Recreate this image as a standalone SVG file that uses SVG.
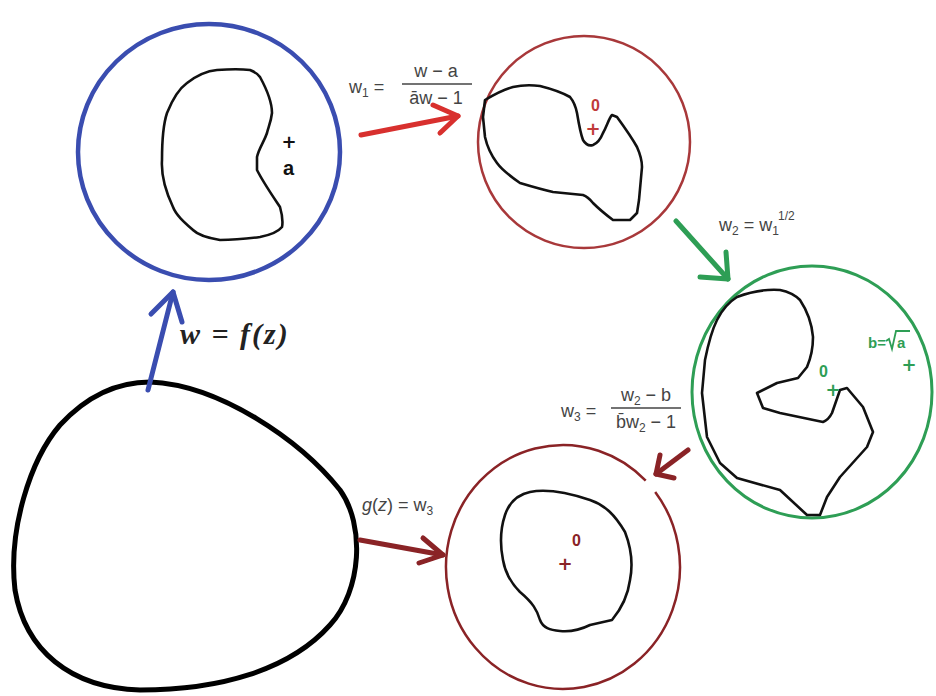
<svg xmlns="http://www.w3.org/2000/svg" width="936" height="696" viewBox="0 0 936 696">
<style>
.blob{fill:none;stroke:#111;stroke-width:2.6;stroke-linejoin:round;stroke-linecap:round}
.lbl{font-family:"Liberation Sans","Open Sans",sans-serif;font-size:18px;fill:#444}
.sub{font-size:12px}
.bar{stroke:#444;stroke-width:1.3}
.arr{fill:none;stroke-width:5;stroke-linecap:round;stroke-linejoin:round}
.mk{font-family:"Liberation Sans",sans-serif;font-weight:bold}
.pl{font-family:"DejaVu Sans",sans-serif;font-weight:bold;font-size:18px;text-anchor:middle}
</style>
<rect width="936" height="696" fill="#fff"/>
<g id="disk-blue">
<ellipse cx="209" cy="152" rx="131" ry="128" fill="none" stroke="#3a4db0" stroke-width="4.5"/>
<path class="blob" d="M217,70 C230,69 242,69 250,70 C255,72 258,74 260,77 C266,88 272,102 272,113 C271,122 268,128 267,133 C264,142 259,148 257,157 L257,170 C263,182 272,195 280,207 C282,214 283,222 282,227 C278,232 270,235 260,237 C245,239 232,240 220,240 C208,238 198,235 193,230 C184,222 176,215 173,207 C165,190 161,175 162,160 C162,140 163,125 167,113 C173,98 180,88 187,83 C196,76 206,71 217,70 Z"/>
<text class="pl" x="289" y="148" fill="#111">+</text>
<text class="mk" x="283" y="175" font-size="20" fill="#111">a</text>
</g>
<g id="disk-red">
<circle cx="584" cy="142" r="106" fill="none" stroke="#a8383a" stroke-width="2.5"/>
<path class="blob" d="M485,100 C495,94 505,89 513,87 C522,85 532,85 540,86 C552,89 563,93 570,97 C575,103 576,108 577,113 C579,125 581,135 583,140 C586,145 590,146 593,145 C598,143 601,138 603,133 C607,126 609,118 612,115 L617,117 C625,128 632,138 637,147 C641,156 642,162 642,167 L639,200 L637,213 L630,220 L613,220 C605,214 598,208 593,203 C589,198 586,196 583,195 L553,192 C540,189 530,186 520,183 C510,176 502,170 497,163 C491,155 487,146 485,137 L483,117 Z"/>
<text class="mk" x="591" y="111" font-size="16" fill="#c03a3a">0</text>
<text class="pl" x="593" y="135" fill="#c03a3a">+</text>
</g>
<g id="disk-green">
<ellipse cx="812" cy="392" rx="120" ry="126" fill="none" stroke="#2e9e55" stroke-width="3"/>
<path class="blob" d="M737,297 C750,292 765,289 780,290 C790,292 796,296 800,300 C808,312 812,325 813,337 C813,350 810,360 807,367 L798,378 L777,383 L757,393 L763,408 L780,413 L823,422 C828,420 830,417 832,413 L840,390 L847,388 L863,407 L873,432 L867,447 L840,477 L827,497 L820,515 L807,515 L780,490 L737,478 L720,463 L707,437 L702,393 L705,360 C708,345 712,330 717,320 C722,310 729,302 737,297 Z"/>
<text class="mk" x="819" y="377" font-size="16" fill="#2e9e55">0</text>
<text class="pl" x="833" y="396" fill="#2e9e55">+</text>
<text class="mk" x="868" y="348" font-size="15" fill="#2e9e55">b=</text>
<path d="M886,341 L889,339 L892,349 L896,331 L910,331" fill="none" stroke="#2e9e55" stroke-width="1.8"/>
<text class="mk" x="897" y="348" font-size="15" fill="#2e9e55">a</text>
<text class="pl" x="909" y="371" fill="#2e9e55">+</text>
</g>
<g id="disk-darkred">
<path d="M655.2,491.9 A117,122 0 1 1 645.7,480.7" fill="none" stroke="#8a2326" stroke-width="2.5"/>
<path class="blob" d="M530,492 C550,488 575,495 590,500 C605,505 615,515 625,532 C632,550 633,565 630,580 C628,595 622,608 612,620 L590,625 C580,630 570,632 560,631 C550,630 543,628 540,620 C537,610 533,603 520,592 C510,582 505,572 503,560 C500,545 500,530 505,515 C510,500 520,494 530,492 Z"/>
<text class="mk" x="572" y="546" font-size="16" fill="#8a2326">0</text>
<text class="pl" x="565" y="570" fill="#8a2326">+</text>
</g>
<g id="domain">
<path d="M150,382 C220,385 300,440 340,490 C365,525 362,590 330,625 C290,670 220,690 140,690 C70,688 25,650 15,590 C8,530 30,460 60,425 C85,398 115,382 150,382 Z" fill="none" stroke="#000" stroke-width="5"/>
</g>
<g id="connectors">
<g stroke="#d8302e" class="arr">
<path d="M361,135 L458,116"/><path d="M433,105 L458,116 L440,133"/>
</g>
<g stroke="#2e9e55" class="arr">
<path d="M676,221 L728,279"/><path d="M726,252 L728,279 L700,277"/>
</g>
<g stroke="#8a2326" class="arr">
<path d="M688,450 L656,474"/><path d="M660,455 L656,474 L674,478"/>
</g>
<g stroke="#8a2326" class="arr">
<path d="M360,540 L443,555"/><path d="M423,538 L443,555 L419,563"/>
</g>
<g stroke="#3a4db0" class="arr">
<path d="M148,390 L173,292"/><path d="M151,314 L173,292 L182,322"/>
</g>
</g>
<g id="labels">
<text class="lbl" x="349" y="93">w<tspan class="sub" dy="4">1</tspan><tspan dy="-4"> =</tspan></text>
<text class="lbl" x="436" y="77" text-anchor="middle">w − a</text>
<line class="bar" x1="402" y1="84" x2="472" y2="84"/>
<text class="lbl" x="436" y="104" text-anchor="middle">āw − 1</text>

<text class="lbl" x="719" y="231">w<tspan class="sub" dy="4">2</tspan><tspan dy="-4"> = w</tspan><tspan class="sub" dy="4">1</tspan><tspan class="sub" dy="-15">1/2</tspan></text>

<text class="lbl" x="561" y="417">w<tspan class="sub" dy="4">3</tspan><tspan dy="-4"> =</tspan></text>
<text class="lbl" x="646" y="401" text-anchor="middle">w<tspan class="sub" dy="4">2</tspan><tspan dy="-4"> − b</tspan></text>
<line class="bar" x1="611" y1="408" x2="681" y2="408"/>
<text class="lbl" x="646" y="428" text-anchor="middle">b̄w<tspan class="sub" dy="4">2</tspan><tspan dy="-4"> − 1</tspan></text>

<text class="lbl" x="362" y="511"><tspan font-style="italic">g</tspan>(<tspan font-style="italic">z</tspan>) = w<tspan class="sub" dy="4">3</tspan></text>

<text x="180" y="344" font-family="Liberation Serif,serif" font-size="30" font-weight="bold" font-style="italic" letter-spacing="2" fill="#222">w = f(z)</text>
</g>
</svg>
